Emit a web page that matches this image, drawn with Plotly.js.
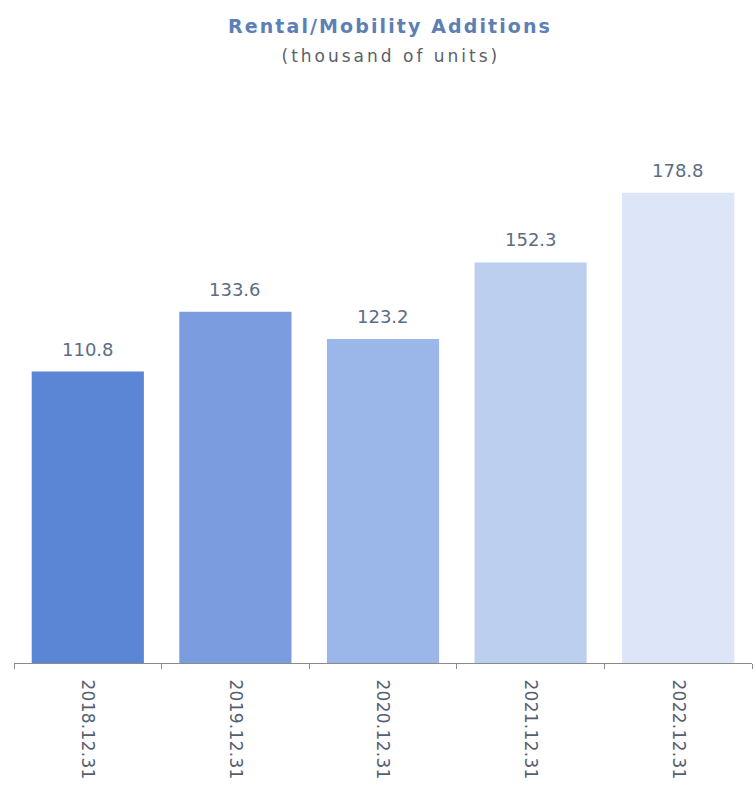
<!DOCTYPE html>
<html>
<head>
<meta charset="utf-8">
<script src="https://cdn.plot.ly/plotly-3.0.1.min.js"></script>
<style>
html,body{margin:0;padding:0;background:#fff;}
#chart{width:756px;height:792px;}
#chart .gtitle{letter-spacing:2.1px;}
#chart .annotation[data-index="5"] text{letter-spacing:3px;}
#chart .xtick text{letter-spacing:0.3px;}
</style>
</head>
<body>
<div id="chart"></div>
<script>
const categories = ["2018.12.31", "2019.12.31", "2020.12.31", "2021.12.31", "2022.12.31"];
const values = [110.8, 133.6, 123.2, 152.3, 178.8];
const valueLabels = ["110.8", "133.6", "123.2", "152.3", "178.8"];
const barColors = ["#5b86d6", "#7b9de0", "#9bb6e8", "#bdcfef", "#dce6f8"];

const FONT = "DejaVu Sans, Verdana, sans-serif";

const annotations = categories.map((c, i) => ({
  x: c, y: values[i], xref: "x", yref: "y",
  text: valueLabels[i], showarrow: false,
  yanchor: "bottom", yshift: 10,
  font: {family: FONT, size: 18, color: "#5d6c85"}
}));
annotations.push({
  x: 0.5, y: (663 - 56) / 526, xref: "paper", yref: "paper",
  text: "(thousand of units)", showarrow: false,
  xanchor: "center", yanchor: "middle", xshift: 8,
  font: {family: FONT, size: 17, color: "#5a5f68"}
});

const trace = {
  type: "bar",
  x: categories,
  y: values,
  marker: {color: barColors, line: {width: 0}},
  hoverinfo: "x+y"
};

const layout = {
  width: 756, height: 792,
  margin: {l: 14, r: 4, t: 137, b: 129},
  paper_bgcolor: "#ffffff", plot_bgcolor: "#ffffff",
  bargap: 0.24,
  showlegend: false,
  title: {
    text: "Rental/Mobility Additions",
    x: 390 / 756, xanchor: "center",
    y: 1 - 26/792, yanchor: "middle", yref: "container",
    font: {family: FONT, size: 19, color: "#5c7fb5", weight: 600}
  },
  xaxis: {
    type: "category",
    tickangle: 90,
    tickson: "boundaries",
    ticks: "outside", ticklen: 5, tickcolor: "#8a8a8a",
    ticklabelstandoff: 12,
    showline: true, linecolor: "#8a8a8a", linewidth: 1,
    showgrid: false, zeroline: false,
    tickfont: {family: FONT, size: 17, color: "#55606f"}
  },
  yaxis: {
    range: [0, 200],
    visible: false, showgrid: false, zeroline: false, fixedrange: true
  },
  annotations: annotations
};

Plotly.newPlot("chart", [trace], layout, {displayModeBar: false, staticPlot: true});
</script>
</body>
</html>
